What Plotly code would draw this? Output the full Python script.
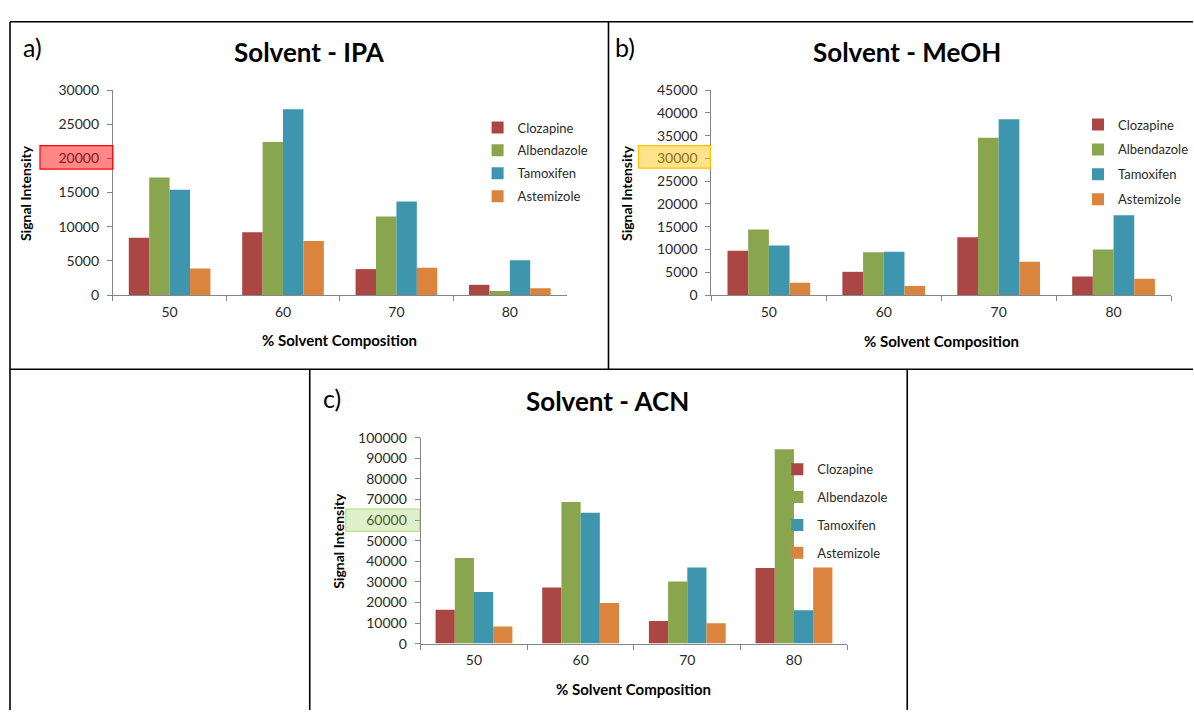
import plotly.graph_objects as go

W, H = 1194, 718

categories = ["50", "60", "70", "80"]
drugs = ["Clozapine", "Albendazole", "Tamoxifen", "Astemizole"]
colors = ["#AA4643", "#89A54E", "#3D96AE", "#DB843D"]

# Solvent - IPA
ipa_clozapine = [8400, 9200, 3800, 1500]
ipa_albendazole = [17200, 22400, 11500, 600]
ipa_tamoxifen = [15400, 27200, 13700, 5100]
ipa_astemizole = [3900, 7900, 4000, 1000]

# Solvent - MeOH
meoh_clozapine = [9700, 5100, 12700, 4100]
meoh_albendazole = [14400, 9400, 34500, 10000]
meoh_tamoxifen = [10900, 9500, 38600, 17500]
meoh_astemizole = [2700, 2000, 7300, 3600]

# Solvent - ACN
acn_clozapine = [16400, 27300, 11000, 36700]
acn_albendazole = [41500, 68700, 30200, 94400]
acn_tamoxifen = [25000, 63500, 37000, 16200]
acn_astemizole = [8300, 19700, 9900, 37000]

y_ranges = [30000, 45000, 100000]
y_dticks = [5000, 5000, 10000]
titles = ["Solvent - IPA", "Solvent - MeOH", "Solvent - ACN"]
panel_labels = ["a)", "b)", "c)"]
x_title = "% Solvent Composition"
y_title = "Signal Intensity"


def px(x):
    return x / W


def py(y):
    return 1 - y / H


FONT = "Lato"
TXT = "#2a2a2a"
AX = "#868686"

panels = [
    dict(data=[ipa_clozapine, ipa_albendazole, ipa_tamoxifen, ipa_astemizole],
         xd=(113, 567), yd=(83, 293), leg=(478, 106), gap=3,
         title_xy=(310, 44), lab_xy=(21, 39), ytit_x=25.5, xtit_y=339),
    dict(data=[meoh_clozapine, meoh_albendazole, meoh_tamoxifen, meoh_astemizole],
         xd=(712, 1172), yd=(83, 293), leg=(1079, 103), gap=5,
         title_xy=(908, 44), lab_xy=(614, 39), ytit_x=627, xtit_y=340),
    dict(data=[acn_clozapine, acn_albendazole, acn_tamoxifen, acn_astemizole],
         xd=(421, 848), yd=(439, 650), leg=(778, 456), gap=8,
         title_xy=(608, 401), lab_xy=(321, 398), ytit_x=338.5, xtit_y=696),
]

fig = go.Figure()
annotations = []
for i, p in enumerate(panels):
    sfx = "" if i == 0 else str(i + 1)
    legname = "legend" + sfx
    for j, d in enumerate(drugs):
        fig.add_trace(go.Bar(
            x=categories, y=p["data"][j], name=d,
            marker=dict(color=colors[j], line=dict(width=0)),
            xaxis="x" + sfx, yaxis="y" + sfx,
            legend=legname, legendgroup=f"{i}-{j}",
        ))
    fig.layout["xaxis" + sfx] = dict(
        domain=[px(p["xd"][0]), px(p["xd"][1])], anchor="y" + sfx,
        type="category", showline=True, linecolor=AX, linewidth=1,
        ticks="outside", tickson="boundaries", ticklen=5, tickcolor=AX,
        ticklabelstandoff=4,
        showgrid=False, zeroline=False,
        tickfont=dict(family=FONT, size=14, color=TXT),
    )
    fig.layout["yaxis" + sfx] = dict(
        domain=[py(p["yd"][1]), py(p["yd"][0])], anchor="x" + sfx,
        range=[0, y_ranges[i]], dtick=y_dticks[i], tickformat="d",
        showline=True, linecolor=AX, linewidth=1,
        ticks="outside", ticklen=5, tickcolor=AX,
        ticklabelstandoff=5,
        showgrid=False, zeroline=False,
        tickfont=dict(family=FONT, size=14, color=TXT),
    )
    fig.layout[legname] = dict(
        x=px(p["leg"][0]), y=py(p["leg"][1]), xanchor="left", yanchor="top",
        bgcolor="rgba(0,0,0,0)", font=dict(family=FONT, size=13, color=TXT),
        tracegroupgap=p["gap"], traceorder="grouped",
    )
    annotations.append(dict(
        text=f"<b>{titles[i]}</b>", x=px(p["title_xy"][0]), y=py(p["title_xy"][1]),
        xref="paper", yref="paper", xanchor="center", yanchor="middle",
        showarrow=False, font=dict(family=FONT, size=26, color="#000000")))
    annotations.append(dict(
        text=panel_labels[i], x=px(p["lab_xy"][0]), y=py(p["lab_xy"][1]),
        xref="paper", yref="paper", xanchor="left", yanchor="middle",
        showarrow=False, font=dict(family=FONT, size=25, color="#000000")))
    annotations.append(dict(
        text=f"<b>{x_title}</b>", x=px((p["xd"][0] + p["xd"][1]) / 2),
        y=py(p["xtit_y"]), xref="paper", yref="paper",
        xanchor="center", yanchor="middle", showarrow=False,
        font=dict(family=FONT, size=15, color="#000000")))
    annotations.append(dict(
        text=f"<b>{y_title}</b>", x=px(p["ytit_x"]),
        y=py((p["yd"][0] + p["yd"][1]) / 2), xref="paper", yref="paper",
        xanchor="center", yanchor="middle", textangle=-90, showarrow=False,
        font=dict(family=FONT, size=14, color="#000000")))

line = dict(color="#000000", width=1.6)
shapes = [
    dict(type="line", x0=px(10), x1=px(1194), y0=py(13), y1=py(13), line=line),
    dict(type="line", x0=px(10), x1=px(1194), y0=py(369), y1=py(369), line=line),
    dict(type="line", x0=px(10), x1=px(10), y0=py(13), y1=py(718), line=line),
    dict(type="line", x0=px(609), x1=px(609), y0=py(13), y1=py(369), line=line),
    dict(type="line", x0=px(310), x1=px(310), y0=py(369), y1=py(718), line=line),
    dict(type="line", x0=px(908), x1=px(908), y0=py(369), y1=py(718), line=line),
    # highlight boxes over tick labels
    dict(type="rect", x0=px(40), x1=px(113), y0=py(164), y1=py(140), layer="above",
         fillcolor="rgba(255,0,0,0.47)", line=dict(color="#FF0000", width=1.2)),
    dict(type="rect", x0=px(639), x1=px(711), y0=py(163), y1=py(140), layer="above",
         fillcolor="rgba(255,192,0,0.45)", line=dict(color="#FFC000", width=1.2)),
    dict(type="rect", x0=px(346), x1=px(420), y0=py(535), y1=py(512), layer="above",
         fillcolor="rgba(146,208,80,0.3)", line=dict(color="rgba(146,208,80,0.55)", width=1.2)),
]
for s in shapes:
    s["xref"] = "paper"
    s["yref"] = "paper"

fig.update_layout(
    width=W, height=H, margin=dict(l=0, r=0, t=0, b=0),
    paper_bgcolor="white", plot_bgcolor="white",
    barmode="group", bargap=0.28, bargroupgap=0,
    annotations=annotations, shapes=shapes,
    font=dict(family=FONT, color=TXT),
)

fig.write_html(
    "out.html",
    post_script="document.body.style.margin='0';",
    config={"displayModeBar": False},
)
